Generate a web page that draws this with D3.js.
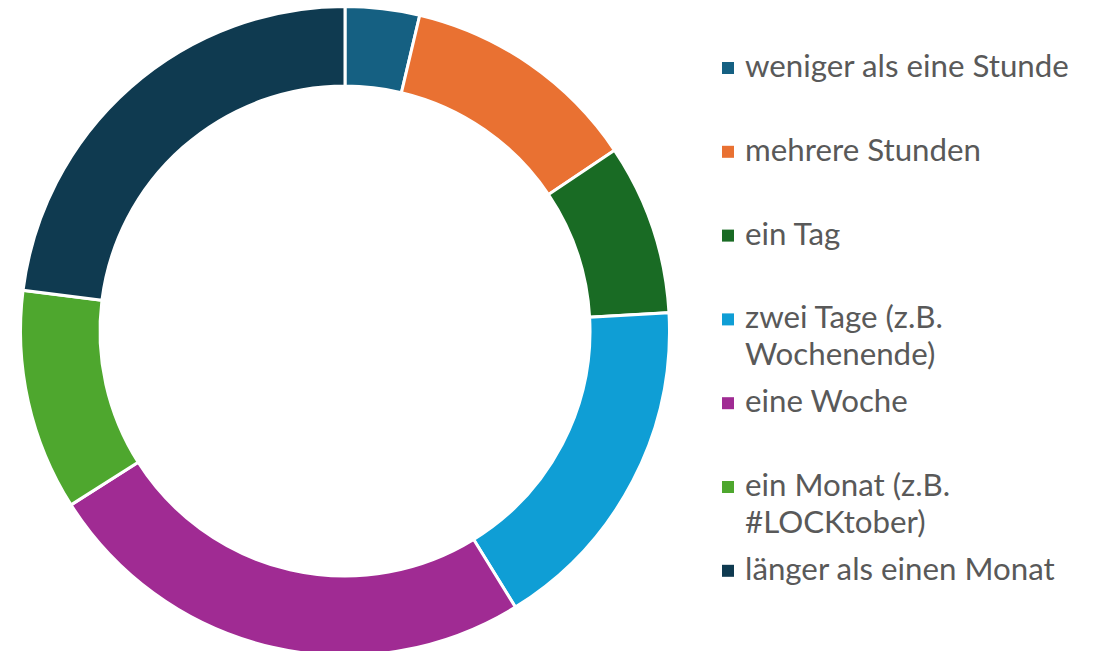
<!DOCTYPE html>
<html>
<head>
<meta charset="utf-8">
<script src="https://cdn.jsdelivr.net/npm/d3@7"></script>
<style>
  body { margin: 0; background: #fff; }
  svg { display: block; }
  .legend text { font-family: Lato, "Open Sans", sans-serif; fill: #595959; }
</style>
</head>
<body>
<svg width="1096" height="651"></svg>
<script>
// answer categories (legend order = slice order, clockwise from 12 o'clock)
let categories = [
  "weniger als eine Stunde",
  "mehrere Stunden",
  "ein Tag",
  "zwei Tage (z.B. Wochenende)",
  "eine Woche",
  "ein Monat (z.B. #LOCKtober)",
  "länger als einen Monat"
];
// share in percent
let shares = [3.7, 11.9, 8.5, 17.1, 24.8, 11.0, 23.0];
let colors = ["#156082", "#E97132", "#196B24", "#0F9ED5", "#A02B93", "#4EA72E", "#0F3A50"];
// legend lines (wrapped like the original)
let legendLines = [
  ["weniger als eine Stunde"],
  ["mehrere Stunden"],
  ["ein Tag"],
  ["zwei Tage (z.B.", "Wochenende)"],
  ["eine Woche"],
  ["ein Monat (z.B.", "#LOCKtober)"],
  ["länger als einen Monat"]
];

let svg = d3.select("svg");
let cx = 345, cy = 331;

let pie = d3.pie().sort(null).value(d => d);
let arc = d3.arc().innerRadius(245).outerRadius(324.5);

let donut = svg.append("g").attr("transform", "translate(" + cx + "," + cy + ")");
donut.selectAll("path")
  .data(pie(shares))
  .enter().append("path")
  .attr("d", arc)
  .attr("fill", (d, i) => colors[i])
  .attr("stroke", "#fff")
  .attr("stroke-width", 3);

// legend
let legend = svg.append("g").attr("class", "legend");
let firstY = 77, step = 83.8;
let items = legend.selectAll("g.item")
  .data(categories)
  .enter().append("g")
  .attr("class", "item")
  .attr("transform", (d, i) => "translate(0," + (firstY + i * step) + ")");

items.append("rect")
  .attr("x", 722).attr("y", -15)
  .attr("width", 12).attr("height", 12)
  .attr("fill", (d, i) => colors[i]);

items.each(function(d, i) {
  let g = d3.select(this);
  legendLines[i].forEach((line, j) => {
    g.append("text")
      .attr("x", 745)
      .attr("y", j * 37)
      .style("font-size", "26px")
      .text(line);
  });
});

// fit font size so first label width matches the original (~324px)
let t0 = legend.select("text").node();
let w0 = t0.getComputedTextLength();
let fs = 26 * 324 / w0;
legend.selectAll("text").style("font-size", fs + "px");
</script>
</body>
</html>
